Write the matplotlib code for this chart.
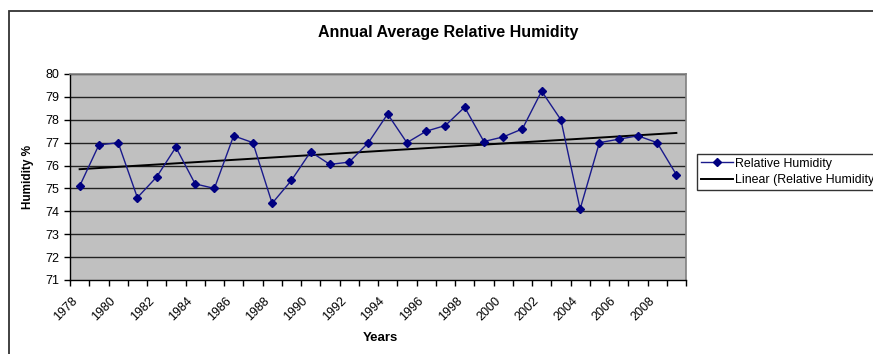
import numpy as np
import matplotlib.pyplot as plt
from matplotlib.patches import Rectangle

years = list(range(1978, 2010))
humidity = [75.1, 76.9, 77.0, 74.6, 75.5, 76.8, 75.2, 75.0, 77.3, 77.0,
            74.35, 75.35, 76.6, 76.05, 76.15, 77.0, 78.25, 77.0, 77.5, 77.75,
            78.55, 77.05, 77.25, 77.6, 79.25, 78.0, 74.1, 77.0, 77.15, 77.3,
            77.0, 75.6]
year_labels = [str(y) for y in range(1978, 2010, 2)]

plt.rcParams['font.family'] = ['Liberation Sans', 'DejaVu Sans']

W, H = 873, 354
fig = plt.figure(figsize=(W / 100, H / 100), dpi=100)
ax = fig.add_axes([70 / W, 1 - 280 / H, (686 - 70) / W, (280 - 74) / H])

# chart area border
fig.patches.append(Rectangle((9 / W, -0.05), 1.0, 1 - 11 / H + 0.05,
                             transform=fig.transFigure, fill=False,
                             edgecolor='#333333', linewidth=1.3))

x = np.arange(len(years))
ax.set_facecolor('#c0c0c0')
for v in range(72, 81):
    ax.axhline(v, color='#222222', linewidth=1.0, zorder=1)

ax.plot(x, humidity, color='#1a1a8c', linewidth=1.0, marker='D',
        markersize=4.5, markerfacecolor='#000080', markeredgecolor='#000080',
        label='Relative Humidity', zorder=3)

k, b = np.polyfit(x, humidity, 1)
ax.plot(x, k * x + b, color='black', linewidth=1.4,
        label='Linear (Relative Humidity)', zorder=2)

ax.set_xlim(-0.5, len(years) - 0.5)
ax.set_ylim(71, 80)
ax.set_yticks(range(71, 81))
# labels sit a bit left of their category, like Excel does
ax.set_xticks(x[::2] - 0.45)
ax.set_xticklabels(year_labels, rotation=45, ha='right', rotation_mode='anchor',
                   fontsize=9)
ax.set_xticks(np.arange(-0.5, len(years)), minor=True)
ax.tick_params(axis='x', which='major', length=0, pad=11)
ax.tick_params(axis='x', which='minor', length=4, direction='out', width=1)
ax.tick_params(axis='y', length=4, width=1, labelsize=9)

for s in ['top', 'right']:
    ax.spines[s].set_color('#808080')
    ax.spines[s].set_linewidth(1.2)
ax.spines['left'].set_linewidth(1.0)
ax.spines['bottom'].set_linewidth(1.0)

ax.set_ylabel('Humidity %', fontsize=8.5, fontweight='bold', labelpad=8)
fig.text(380 / W, 1 - 338 / H, 'Years', ha='center', va='center',
         fontsize=9.5, fontweight='bold')
fig.text(448 / W, 1 - 33 / H, 'Annual Average Relative Humidity',
         ha='center', va='center', fontsize=11.5, fontweight='bold')

leg = fig.legend(loc='upper left', bbox_to_anchor=(697 / W, 1 - 154 / H),
                 fontsize=8.9, frameon=True, fancybox=False, borderpad=0.3,
                 handlelength=2.6, handletextpad=0.2, labelspacing=0.35,
                 borderaxespad=0)
leg.get_frame().set_edgecolor('black')
leg.get_frame().set_linewidth(1.0)

fig.savefig('out.png', dpi=100)
